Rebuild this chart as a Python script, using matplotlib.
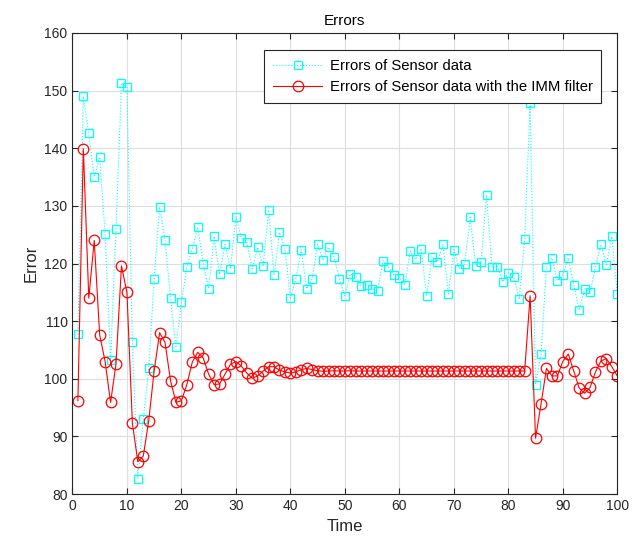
import matplotlib
matplotlib.use("Agg")
import matplotlib.pyplot as plt

FONT_SIZE = 12
FONT_SIZE_SMALL = 10
AX_COLOR = "#262626"

plt.rcParams["font.family"] = ["Liberation Sans", "DejaVu Sans"]

time = list(range(1, 101))

sensor_errors = [
    107.7, 149.0, 142.6, 135.0, 138.5, 125.1, 103.3, 126.0, 151.3, 150.6,
    106.3, 82.7, 93.0, 101.9, 117.4, 129.8, 124.0, 114.0, 105.6, 113.3,
    119.4, 122.6, 126.3, 120.0, 115.6, 124.7, 118.1, 123.3, 119.1, 128.1,
    124.4, 123.8, 119.1, 122.8, 119.5, 129.3, 118.0, 125.4, 122.6, 114.0,
    117.3, 122.4, 115.6, 117.3, 123.3, 120.6, 122.8, 121.2, 117.3, 114.4,
    118.2, 117.7, 116.1, 116.3, 115.6, 115.2, 120.5, 119.4, 118.0, 117.5,
    116.3, 122.2, 120.7, 122.6, 114.4, 121.2, 120.3, 123.3, 114.7, 122.4,
    119.1, 120.0, 128.0, 119.6, 120.3, 131.9, 119.4, 119.4, 116.8, 118.4,
    117.7, 113.8, 124.2, 147.8, 99.0, 104.3, 119.4, 121.0, 117.0, 118.0,
    121.0, 116.3, 111.9, 115.6, 115.0, 119.4, 123.3, 119.8, 124.7, 114.7,
]

imm_errors = [
    96.2, 139.9, 114.0, 124.0, 107.6, 103.0, 95.9, 102.6, 119.6, 115.0,
    92.3, 85.6, 86.6, 92.7, 101.4, 108.0, 106.3, 99.7, 95.9, 96.2,
    99.0, 102.9, 104.6, 103.6, 100.8, 99.0, 99.1, 100.8, 102.5, 103.0,
    102.2, 101.0, 100.1, 100.5, 101.35, 102.1, 102.1, 101.5, 101.2, 101.0,
    101.2, 101.6, 101.8, 101.6, 101.4, 101.3, 101.35, 101.4, 101.35, 101.35,
    101.4, 101.35, 101.35, 101.35, 101.35, 101.35, 101.35, 101.35, 101.35, 101.35,
    101.35, 101.35, 101.35, 101.35, 101.35, 101.35, 101.35, 101.35, 101.35, 101.35,
    101.35, 101.35, 101.35, 101.35, 101.35, 101.35, 101.35, 101.35, 101.35, 101.35,
    101.35, 101.35, 101.35, 114.4, 89.7, 95.6, 101.8, 100.5, 100.5, 103.0,
    104.3, 101.4, 98.4, 97.5, 98.5, 101.2, 103.1, 103.5, 102.1, 100.5,
]


def main():
    fig = plt.figure(figsize=(6.41, 5.49), dpi=100)
    ax = fig.add_axes([0.113, 0.100, 0.850, 0.840])

    ax.plot(time, sensor_errors, linestyle=":", color="cyan", linewidth=0.8,
            marker="s", markersize=6.3, markerfacecolor="none", markeredgewidth=0.9,
            label="Errors of Sensor data")
    ax.plot(time, imm_errors, linestyle="-", color="red", linewidth=0.8,
            marker="o", markersize=7.6, markerfacecolor="none", markeredgewidth=0.9,
            label="Errors of Sensor data with the IMM filter")

    ax.set_xlim(0, 100)
    ax.set_ylim(80, 160)
    ax.set_xticks(range(0, 101, 10))
    ax.set_yticks(range(80, 161, 10))

    ax.grid(True, color="#dedede", linewidth=0.8)
    ax.set_axisbelow(True)
    ax.tick_params(direction="in", top=True, right=True, labelsize=FONT_SIZE_SMALL,
                   colors=AX_COLOR, length=4)
    for spine in ax.spines.values():
        spine.set_color(AX_COLOR)
        spine.set_linewidth(0.8)

    ax.set_title("Errors", fontsize=11, color="black")
    ax.set_xlabel("Time", fontsize=FONT_SIZE, color=AX_COLOR)
    ax.set_ylabel("Error", fontsize=FONT_SIZE, color=AX_COLOR)

    leg = ax.legend(loc="upper right", bbox_to_anchor=(0.971, 0.963), borderaxespad=0,
                    fontsize=10.7, fancybox=False, framealpha=1, edgecolor=AX_COLOR,
                    borderpad=0.6, handlelength=3.3, handletextpad=0.5, labelspacing=0.5)
    leg.get_frame().set_linewidth(0.8)

    plt.savefig("out.png", dpi=100)


if __name__ == "__main__":
    main()
